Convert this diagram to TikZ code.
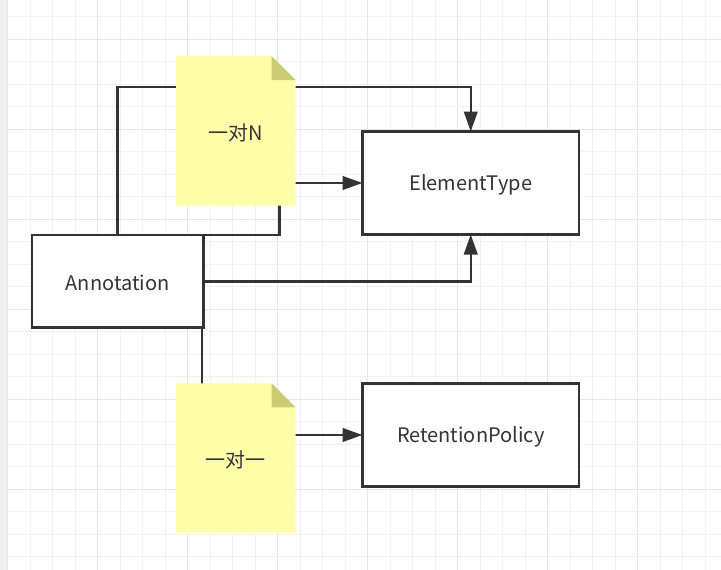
\documentclass[tikz,border=0pt]{standalone}
\usepackage{fontspec}
\setmainfont{Noto Sans CJK SC}
\usetikzlibrary{arrows.meta,calc}
\definecolor{ln}{HTML}{333333}
\definecolor{gridminor}{HTML}{F2F2F2}
\definecolor{gridmajor}{HTML}{E6E6E6}
\definecolor{strip}{HTML}{EFEFEF}
\definecolor{notefill}{HTML}{FFFFAA}
\definecolor{notefold}{HTML}{CCCC77}
\newcommand{\lowtxt}[1]{\raisebox{-2pt}[\height][\depth]{#1}}
\pgfdeclarelayer{gridlayer}
\pgfdeclarelayer{wirelayer}
\pgfdeclarelayer{paperlayer}
\pgfsetlayers{gridlayer,wirelayer,paperlayer,main}
\begin{document}
\begin{tikzpicture}[x=1pt,y=-1pt,
  box/.style={draw=ln, line width=2.6pt, fill=white, rectangle, inner sep=0pt, outer sep=0pt,
    font=\fontsize{20}{24}\selectfont, text=ln},
  notebox/.style={rectangle, inner sep=0pt, outer sep=0pt, minimum width=119.7pt, minimum height=149.5pt,
    font=\fontsize{20}{24}\selectfont, text=ln},
  conn/.style={draw=ln, line width=2.5pt, -{Triangle[length=20pt,width=13.5pt]}},
  gminor/.style={draw=gridminor, line width=1pt},
  gmajor/.style={draw=gridmajor, line width=1pt}]
\useasboundingbox (0,0) rectangle (721,570);

% nodes
\node[box, minimum width=171.3pt, minimum height=92.5pt] (a) at (117.6,281.3) {\lowtxt{Annotation}};
\node[box, minimum width=216.5pt, minimum height=103pt] (e) at (470.75,183) {\lowtxt{ElementType}};
\node[box, minimum width=216.5pt, minimum height=103.5pt] (r) at (470.75,435) {\lowtxt{RetentionPolicy}};
\node[notebox] (n1) at (235.85,130.85) {\lowtxt{一对N}};
\node[notebox] (n2) at (235.85,458) {\lowtxt{一对一}};

% note paper
\begin{pgfonlayer}{paperlayer}
  \foreach \n in {n1,n2}{
    \fill[notefill] (\n.north west) -- ($(\n.north east)+(-24,0)$) -- ($(\n.north east)+(0,24)$)
      -- (\n.south east) -- (\n.south west) -- cycle;
    \fill[notefold] ($(\n.north east)+(-24,0)$) -- ($(\n.north east)+(-24,24)$) -- ($(\n.north east)+(0,24)$) -- cycle;
  }
\end{pgfonlayer}

% connectors
\begin{pgfonlayer}{wirelayer}
  \coordinate (c1) at (117.6,87);
  \coordinate (c2) at (279.3,183);
  \draw[conn] (a.north) -- (c1) -| (e.north);
  \draw[conn] (a.north east) -| (c2) -- (e.west);
  \draw[conn] (a.east) -| (e.south);
  \draw[conn] ($(a.south east)+(-1.3,0)$) |- (r.west);
\end{pgfonlayer}

% background grid
\begin{pgfonlayer}{gridlayer}
  \fill[white] (0,0) rectangle (721,570);
  \foreach \k in {0,...,31}{
    \draw[gminor] (7.7+22.5*\k,0) -- ++(0,570);
  }
  \foreach \k in {0,...,25}{
    \draw[gminor] (0,16.8+22.5*\k) -- ++(721,0);
  }
  \foreach \k in {0,...,7}{
    \draw[gmajor] (7.7+90*\k,0) -- ++(0,570);
  }
  \foreach \k in {0,...,5}{
    \draw[gmajor] (0,39.3+90*\k) -- ++(721,0);
  }
  \fill[strip] (0,0) rectangle (7.2,570);
\end{pgfonlayer}
\end{tikzpicture}
\end{document}
